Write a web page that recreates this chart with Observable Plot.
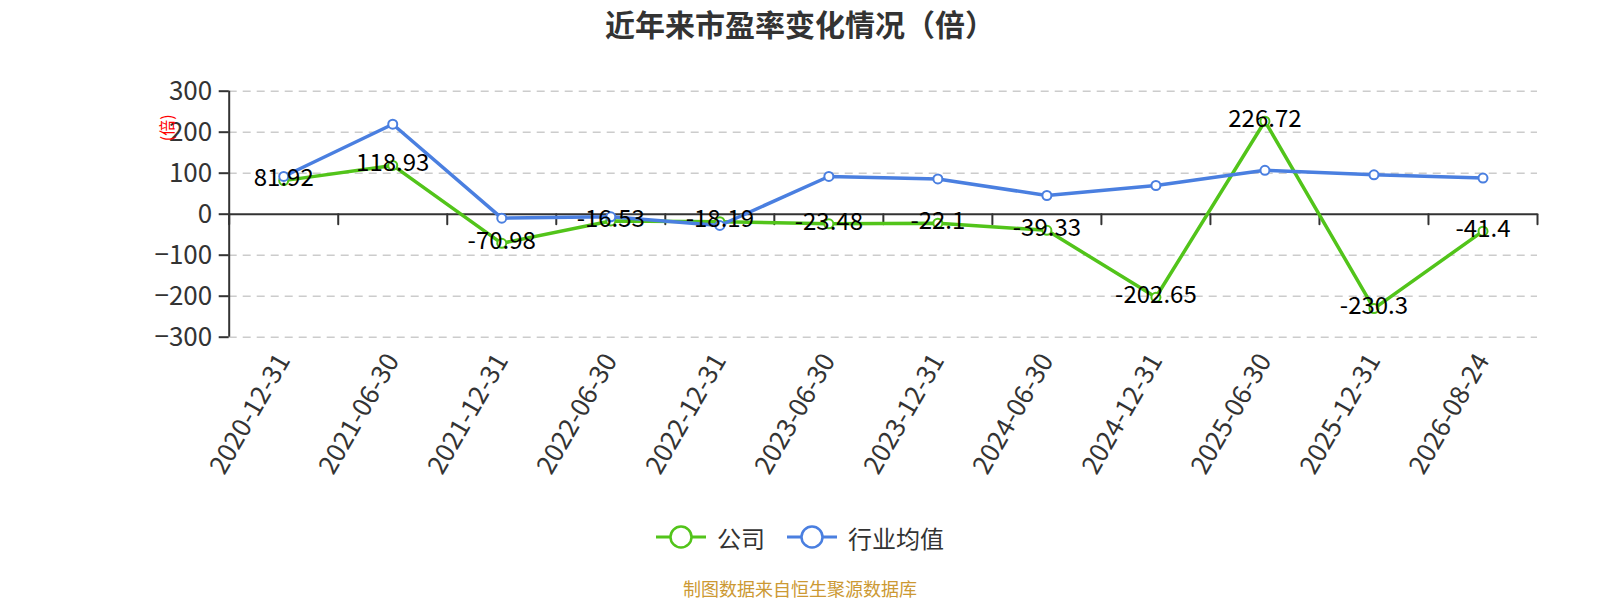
<!DOCTYPE html>
<html>
<head>
<meta charset="utf-8">
<script src="https://cdn.jsdelivr.net/npm/d3@7"></script>
<script src="https://cdn.jsdelivr.net/npm/@observablehq/plot@0.6"></script>
<style>
  html, body { margin: 0; padding: 0; background: #fff; overflow: hidden; width: 1600px; height: 600px; }
  body { font-family: "Microsoft YaHei", "Noto Sans CJK SC", "Noto Sans", sans-serif; }
  #title { height: 46px; line-height: 46px; text-align: center; font-size: 30px; font-weight: bold; color: #333; }
  #legend { height: 62px; display: flex; justify-content: center; align-items: center; gap: 22px; font-size: 24px; color: #333; }
  .item { display: flex; align-items: center; gap: 11px; }
  #caption { height: 40px; line-height: 40px; text-align: center; font-size: 18px; color: #CC9933; }
</style>
</head>
<body>
<div id="title"></div>
<div id="chart"></div>
<div id="legend"></div>
<div id="caption"></div>
<script>
const titleText = "近年来市盈率变化情况（倍）";
const captionText = "制图数据来自恒生聚源数据库";
const unitLabel = "(倍)";
const dates = ["2020-12-31","2021-06-30","2021-12-31","2022-06-30","2022-12-31","2023-06-30","2023-12-31","2024-06-30","2024-12-31","2025-06-30","2025-12-31","2026-08-24"];
const companyValues = [81.92, 118.93, -70.98, -16.53, -18.19, -23.48, -22.1, -39.33, -202.65, 226.72, -230.3, -41.4];
const industryValues = [92, 219.5, -9.7, -6.5, -27.5, 92, 86, 45.6, 70, 107, 96, 88];
const seriesNames = ["公司", "行业均值"];
const seriesColors = ["#52c41a", "#4a7fe0"];
const yTicks = [-300, -200, -100, 0, 100, 200, 300];

document.getElementById("title").textContent = titleText;
document.getElementById("caption").textContent = captionText;

const idx = d3.range(dates.length);
const boundaries = d3.range(dates.length + 1).map(i => i - 0.5);
const tickShape = { draw(context, l) { context.moveTo(0, 0); context.lineTo(0, -l); } };

const chart = Plot.plot({
  width: 1600,
  height: 460,
  marginTop: 44.7,
  marginBottom: 169.3,
  marginLeft: 228.7,
  marginRight: 63,
  style: { fontFamily: "'Microsoft YaHei', 'Noto Sans CJK SC', 'Noto Sans', sans-serif", color: "#333", background: "#fff", overflow: "visible" },
  x: { domain: [-0.5, dates.length - 0.5] },
  y: { domain: [-300, 300] },
  marks: [
    Plot.ruleY(yTicks.filter(d => d !== 0), { stroke: "#ccc", strokeWidth: 1.5, strokeDasharray: "8,6" }),
    Plot.axisY({ ticks: yTicks, tickSize: 10, tickPadding: 7, fontSize: 26, strokeWidth: 2, stroke: "#333", label: null }),
    Plot.axisX({ ticks: idx, tickFormat: i => dates[i], tickRotate: -60, tickSize: 0, tickPadding: 19, fontSize: 26, label: null }),
    Plot.ruleX([-0.5], { y1: -300, y2: 300, stroke: "#333", strokeWidth: 2 }),
    Plot.ruleY([0], { stroke: "#333", strokeWidth: 2 }),
    Plot.vector(boundaries, { x: d => d, y: 0, length: 10, rotate: 180, anchor: "start", shape: tickShape, stroke: "#333", strokeWidth: 2 }),
    Plot.line(idx, { x: i => i, y: i => companyValues[i], stroke: seriesColors[0], strokeWidth: 3.5 }),
    Plot.dot(idx, { x: i => i, y: i => companyValues[i], r: 4.5, fill: "#fff", stroke: seriesColors[0], strokeWidth: 2 }),
    Plot.line(idx, { x: i => i, y: i => industryValues[i], stroke: seriesColors[1], strokeWidth: 3.5 }),
    Plot.dot(idx, { x: i => i, y: i => industryValues[i], r: 4.5, fill: "#fff", stroke: seriesColors[1], strokeWidth: 2 }),
    Plot.text(idx, { x: i => i, y: i => companyValues[i], text: i => String(companyValues[i]), fontSize: 24, fill: "#000", dy: -2 }),
    Plot.text([unitLabel], { frameAnchor: "top-left", dx: -68, dy: 50, rotate: -90, fill: "red", fontSize: 16 })
  ]
});
document.getElementById("chart").appendChild(chart);

const legend = document.getElementById("legend");
seriesNames.forEach((name, k) => {
  const item = document.createElement("div");
  item.className = "item";
  item.innerHTML = `<svg width="50" height="26"><line x1="0" y1="13" x2="50" y2="13" stroke="${seriesColors[k]}" stroke-width="3"/><circle cx="25" cy="13" r="10.5" fill="#fff" stroke="${seriesColors[k]}" stroke-width="2.5"/></svg><span>${name}</span>`;
  legend.appendChild(item);
});
</script>
</body>
</html>
